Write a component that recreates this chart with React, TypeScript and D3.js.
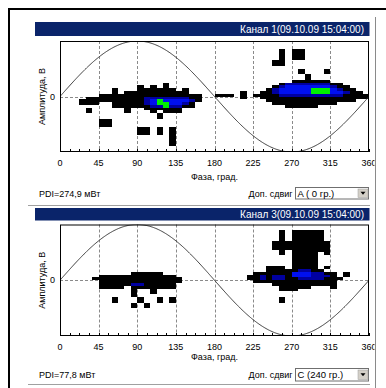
import React from 'react';
import * as d3 from 'd3';

// ---------- data ----------
const phaseTicks = [0, 45, 90, 135, 180, 225, 270, 315, 360];
const minorStep = 11.25;
const COL_DEG = 7.5; // phase bin width, degrees
const ROW_AMP = 0.05; // amplitude bin height (relative units, axis -1..1)

// runs of heat-map cells: [row, firstCol, lastCol, level]; level 1 black, 2 navy, 3 blue, 4 green
type Run = [number, number, number, number];

const ch1Cells: Run[] = [
  [15, 16, 16, 1],
  [16, 12, 12, 1], [16, 14, 14, 1], [16, 16, 16, 1],
  [17, 8, 8, 1], [17, 12, 17, 1], [17, 19, 19, 1],
  [18, 8, 8, 1], [18, 10, 19, 1],
  [19, 6, 21, 1],
  [20, 4, 21, 1],
  [21, 3, 21, 1],
  [22, 3, 5, 1], [22, 8, 20, 1],
  [23, 8, 20, 1],
  [24, 4, 4, 1], [24, 10, 10, 1], [24, 13, 18, 1],
  [25, 4, 4, 1], [25, 10, 10, 1], [25, 14, 14, 1], [25, 16, 18, 1],
  [26, 15, 15, 1], [27, 15, 15, 1],
  [28, 6, 7, 1], [29, 6, 7, 1], [30, 6, 7, 1],
  [31, 12, 13, 1], [31, 15, 15, 1], [31, 17, 17, 1],
  [32, 12, 13, 1], [32, 15, 15, 1], [32, 17, 17, 1],
  [33, 12, 13, 1], [33, 15, 15, 1], [33, 17, 17, 1],
  [34, 17, 17, 1], [35, 17, 17, 1], [36, 17, 17, 1], [37, 17, 17, 1],
  [20, 13, 19, 2],
  [21, 13, 20, 2], [21, 14, 19, 3], [21, 15, 15, 4],
  [22, 13, 19, 2], [22, 14, 18, 3], [22, 15, 16, 4],
  [23, 14, 18, 2], [23, 16, 16, 4],
  [18, 28, 28, 1], [19, 24, 26, 1], [19, 28, 28, 1], [20, 28, 28, 1],
  [3, 34, 34, 1], [4, 34, 34, 1], [5, 34, 34, 1], [6, 34, 34, 1], [7, 33, 34, 1], [8, 33, 34, 1],
  [3, 36, 37, 1], [4, 36, 37, 1], [5, 36, 37, 1], [6, 36, 37, 1],
  [10, 37, 37, 1], [11, 37, 37, 1], [10, 41, 41, 1], [11, 41, 41, 1],
  [12, 38, 38, 1], [13, 38, 38, 1],
  [14, 36, 41, 1],
  [15, 34, 43, 1],
  [16, 33, 44, 1],
  [17, 32, 45, 1],
  [18, 31, 46, 1],
  [19, 30, 47, 1],
  [20, 31, 47, 1],
  [21, 32, 45, 1],
  [22, 33, 42, 1],
  [23, 35, 39, 1],
  [15, 35, 41, 2],
  [16, 34, 42, 2], [16, 35, 41, 3],
  [17, 33, 43, 2], [17, 34, 42, 3], [17, 39, 41, 4],
  [18, 33, 44, 2], [18, 34, 43, 3], [18, 39, 41, 4],
  [19, 34, 43, 2],
];

const ch3Cells: Run[] = [
  [17, 11, 15, 1],
  [18, 6, 17, 1],
  [19, 5, 18, 1],
  [20, 6, 18, 1],
  [21, 6, 17, 1],
  [22, 6, 9, 1], [22, 11, 17, 1],
  [23, 11, 11, 1], [23, 14, 14, 1],
  [24, 11, 11, 1], [24, 14, 14, 1],
  [25, 11, 11, 1],
  [26, 8, 8, 1], [26, 12, 12, 1], [26, 15, 15, 1], [26, 17, 17, 1],
  [27, 8, 8, 1], [27, 12, 12, 1], [27, 15, 15, 1], [27, 17, 17, 1],
  [28, 11, 11, 1], [28, 13, 13, 1], [29, 11, 11, 1], [29, 13, 13, 1],
  [21, 11, 12, 2],
  [2, 34, 34, 1], [3, 34, 34, 1], [4, 34, 34, 1], [5, 34, 34, 1],
  [2, 36, 40, 1], [3, 36, 40, 1], [4, 36, 40, 1], [5, 36, 40, 1],
  [6, 33, 41, 1], [7, 33, 41, 1], [8, 33, 41, 1],
  [9, 34, 34, 1], [9, 36, 41, 1],
  [10, 34, 34, 1], [10, 36, 39, 1], [10, 41, 41, 1],
  [11, 36, 39, 1], [12, 36, 39, 1], [13, 36, 39, 1], [14, 36, 39, 1], [15, 36, 39, 1],
  [15, 41, 41, 1],
  [15, 32, 34, 1],
  [16, 32, 40, 1],
  [17, 30, 42, 1], [17, 44, 44, 1],
  [18, 29, 42, 1], [18, 44, 44, 1],
  [19, 29, 43, 1],
  [20, 30, 42, 1],
  [21, 33, 42, 1],
  [22, 34, 38, 1], [22, 42, 42, 1],
  [23, 34, 36, 1],
  [26, 34, 34, 1], [27, 34, 34, 1],
  [16, 37, 38, 2],
  [17, 36, 38, 3], [17, 39, 40, 2],
  [18, 31, 31, 2], [18, 33, 34, 2], [18, 36, 38, 3], [18, 39, 41, 2],
  [19, 31, 31, 2], [19, 33, 34, 2], [19, 37, 40, 2],
];

const titles = ['Канал 1(09.10.09 15:04:00)', 'Канал 3(09.10.09 15:04:00)'];
const pdiTexts = ['PDI=274,9 мВт', 'PDI=77,8 мВт'];
const shiftTexts = ['A ( 0 гр.)', 'C (240 гр.)'];
const cellSets = [ch1Cells, ch3Cells];

// ---------- layout / style ----------
const levelColors = ['none', '#000000', '#0000a0', '#0010f0', '#00f000'];
const FONT = 'Liberation Sans, Arial, sans-serif';
const layouts = [
  { headerY: 22, headerH: 14, plotTop: 41, plotBottom: 152, tickY: 163, titleY: 176.5, footY: 193.5, boxY: 187, boxH: 12.5, sepY: 205.5 },
  { headerY: 208, headerH: 12.5, plotTop: 224.5, plotBottom: 336, tickY: 347, titleY: 357, footY: 374.5, boxY: 368, boxH: 13.5, sepY: 384.5 },
];
const X0 = 60, X1 = 369;

function Panel({ idx }: { idx: number }) {
  const L = layouts[idx];
  const x = d3.scaleLinear().domain([0, 360]).range([X0, X1]);
  const y = d3.scaleLinear().domain([-1, 1]).range([L.plotBottom, L.plotTop]);
  const sine = d3.line<number>()
    .x((d) => x(d))
    .y((d) => y(Math.sin((d * Math.PI) / 180)))(d3.range(0, 360.5, 1));
  const minor = d3.range(0, 360 + 1e-6, minorStep);
  const midY = (L.plotTop + L.plotBottom) / 2;
  const clipId = `clip${idx}`;
  return (
    <g>
      <defs>
        <clipPath id={clipId}>
          <rect x={X0} y={L.plotTop} width={X1 - X0} height={L.plotBottom - L.plotTop} />
        </clipPath>
      </defs>
      {/* header */}
      <rect x={35} y={L.headerY} width={334.5} height={L.headerH} fill="#0a246a" />
      <text x={364} y={L.headerY + L.headerH / 2 + 0.5} fill="#fff" fontSize={10} fontFamily={FONT}
        textAnchor="end" dominantBaseline="central">{titles[idx]}</text>
      {/* grid */}
      {phaseTicks.slice(1, -1).map((t) => (
        <line key={t} x1={Math.round(x(t)) + 0.5} x2={Math.round(x(t)) + 0.5} y1={L.plotTop} y2={L.plotBottom}
          stroke="#8a8a8a" strokeDasharray="3,2" />
      ))}
      <line x1={X0} x2={X1} y1={Math.round(y(0)) + 0.5} y2={Math.round(y(0)) + 0.5} stroke="#8a8a8a" strokeDasharray="3,2" />
      {/* cells */}
      <g clipPath={`url(#${clipId})`} shapeRendering="crispEdges">
        {cellSets[idx].map(([r, c0, c1, lv], i) => {
          const xa = x(c0 * COL_DEG);
          const xb = x((c1 + 1) * COL_DEG);
          const ya = y(1 - r * ROW_AMP);
          const yb = y(1 - (r + 1) * ROW_AMP);
          return <rect key={i} x={xa} y={ya} width={xb - xa} height={yb - ya} fill={levelColors[lv]} />;
        })}
      </g>
      {/* sine */}
      <path d={sine || ''} fill="none" stroke="#3a3a3a" strokeWidth={1} clipPath={`url(#${clipId})`} />
      {/* frame */}
      <rect x={X0 + 0.5} y={L.plotTop + 0.5} width={X1 - X0 - 1} height={L.plotBottom - L.plotTop - 1}
        fill="none" stroke="#000" />
      {minor.map((t) => (
        <line key={t} x1={Math.round(x(t)) + 0.5} x2={Math.round(x(t)) + 0.5} y1={L.plotBottom - 3} y2={L.plotBottom}
          stroke="#000" />
      ))}
      {/* axis labels */}
      {phaseTicks.map((t) => (
        <text key={t} x={x(t)} y={L.tickY} fontSize={9} fontFamily={FONT} textAnchor="middle"
          dominantBaseline="central" fill="#000">{t}</text>
      ))}
      <text x={(X0 + X1) / 2} y={L.titleY} fontSize={9} fontFamily={FONT} textAnchor="middle"
        dominantBaseline="central">Фаза, град.</text>
      <text x={55} y={y(0)} fontSize={9} fontFamily={FONT} textAnchor="end" dominantBaseline="central">0</text>
      <text transform={`translate(41.5,${midY}) rotate(-90)`} fontSize={9} fontFamily={FONT}
        textAnchor="middle" dominantBaseline="central">Амплитуда, В</text>
      {/* footer */}
      <text x={39} y={L.footY} fontSize={9} fontFamily={FONT} dominantBaseline="central">{pdiTexts[idx]}</text>
      <text x={292.5} y={L.footY} fontSize={9} fontFamily={FONT} textAnchor="end" dominantBaseline="central">Доп. сдвиг</text>
      <rect x={295.5} y={L.boxY + 0.5} width={73} height={L.boxH - 1} fill="#fff" stroke="#6f6f6f" />
      <text x={297.5} y={L.boxY + L.boxH / 2} fontSize={9.5} fontFamily={FONT} dominantBaseline="central">{shiftTexts[idx]}</text>
      <rect x={358} y={L.boxY + 2} width={10} height={L.boxH - 4} fill="#d4d0c8" stroke="#9a9a9a" strokeWidth={0.5} />
      <path d={`M${360.5},${L.boxY + L.boxH / 2 - 1.5} h5 l-2.5,3 z`} fill="#000" />
      <line x1={28} x2={370} y1={L.sepY} y2={L.sepY} stroke="#a0a0a0" />
    </g>
  );
}

export default function App() {
  return (
    <svg width={386} height={388} style={{ position: 'absolute', left: 0, top: 0, display: 'block' }}>
      <rect x={0} y={0} width={386} height={388} fill="#fff" />
      <defs>
        <clipPath id="inner">
          <rect x={0} y={0} width={374.5} height={388} />
        </clipPath>
      </defs>
      <g clipPath="url(#inner)">
        <Panel idx={0} />
        <Panel idx={1} />
      </g>
      <rect x={8} y={8} width={378} height={2} fill="#000" />
      <rect x={8} y={8} width={2} height={380} fill="#000" />
      <line x1={375.5} x2={375.5} y1={17} y2={388} stroke="#8a8a8a" />
    </svg>
  );
}
